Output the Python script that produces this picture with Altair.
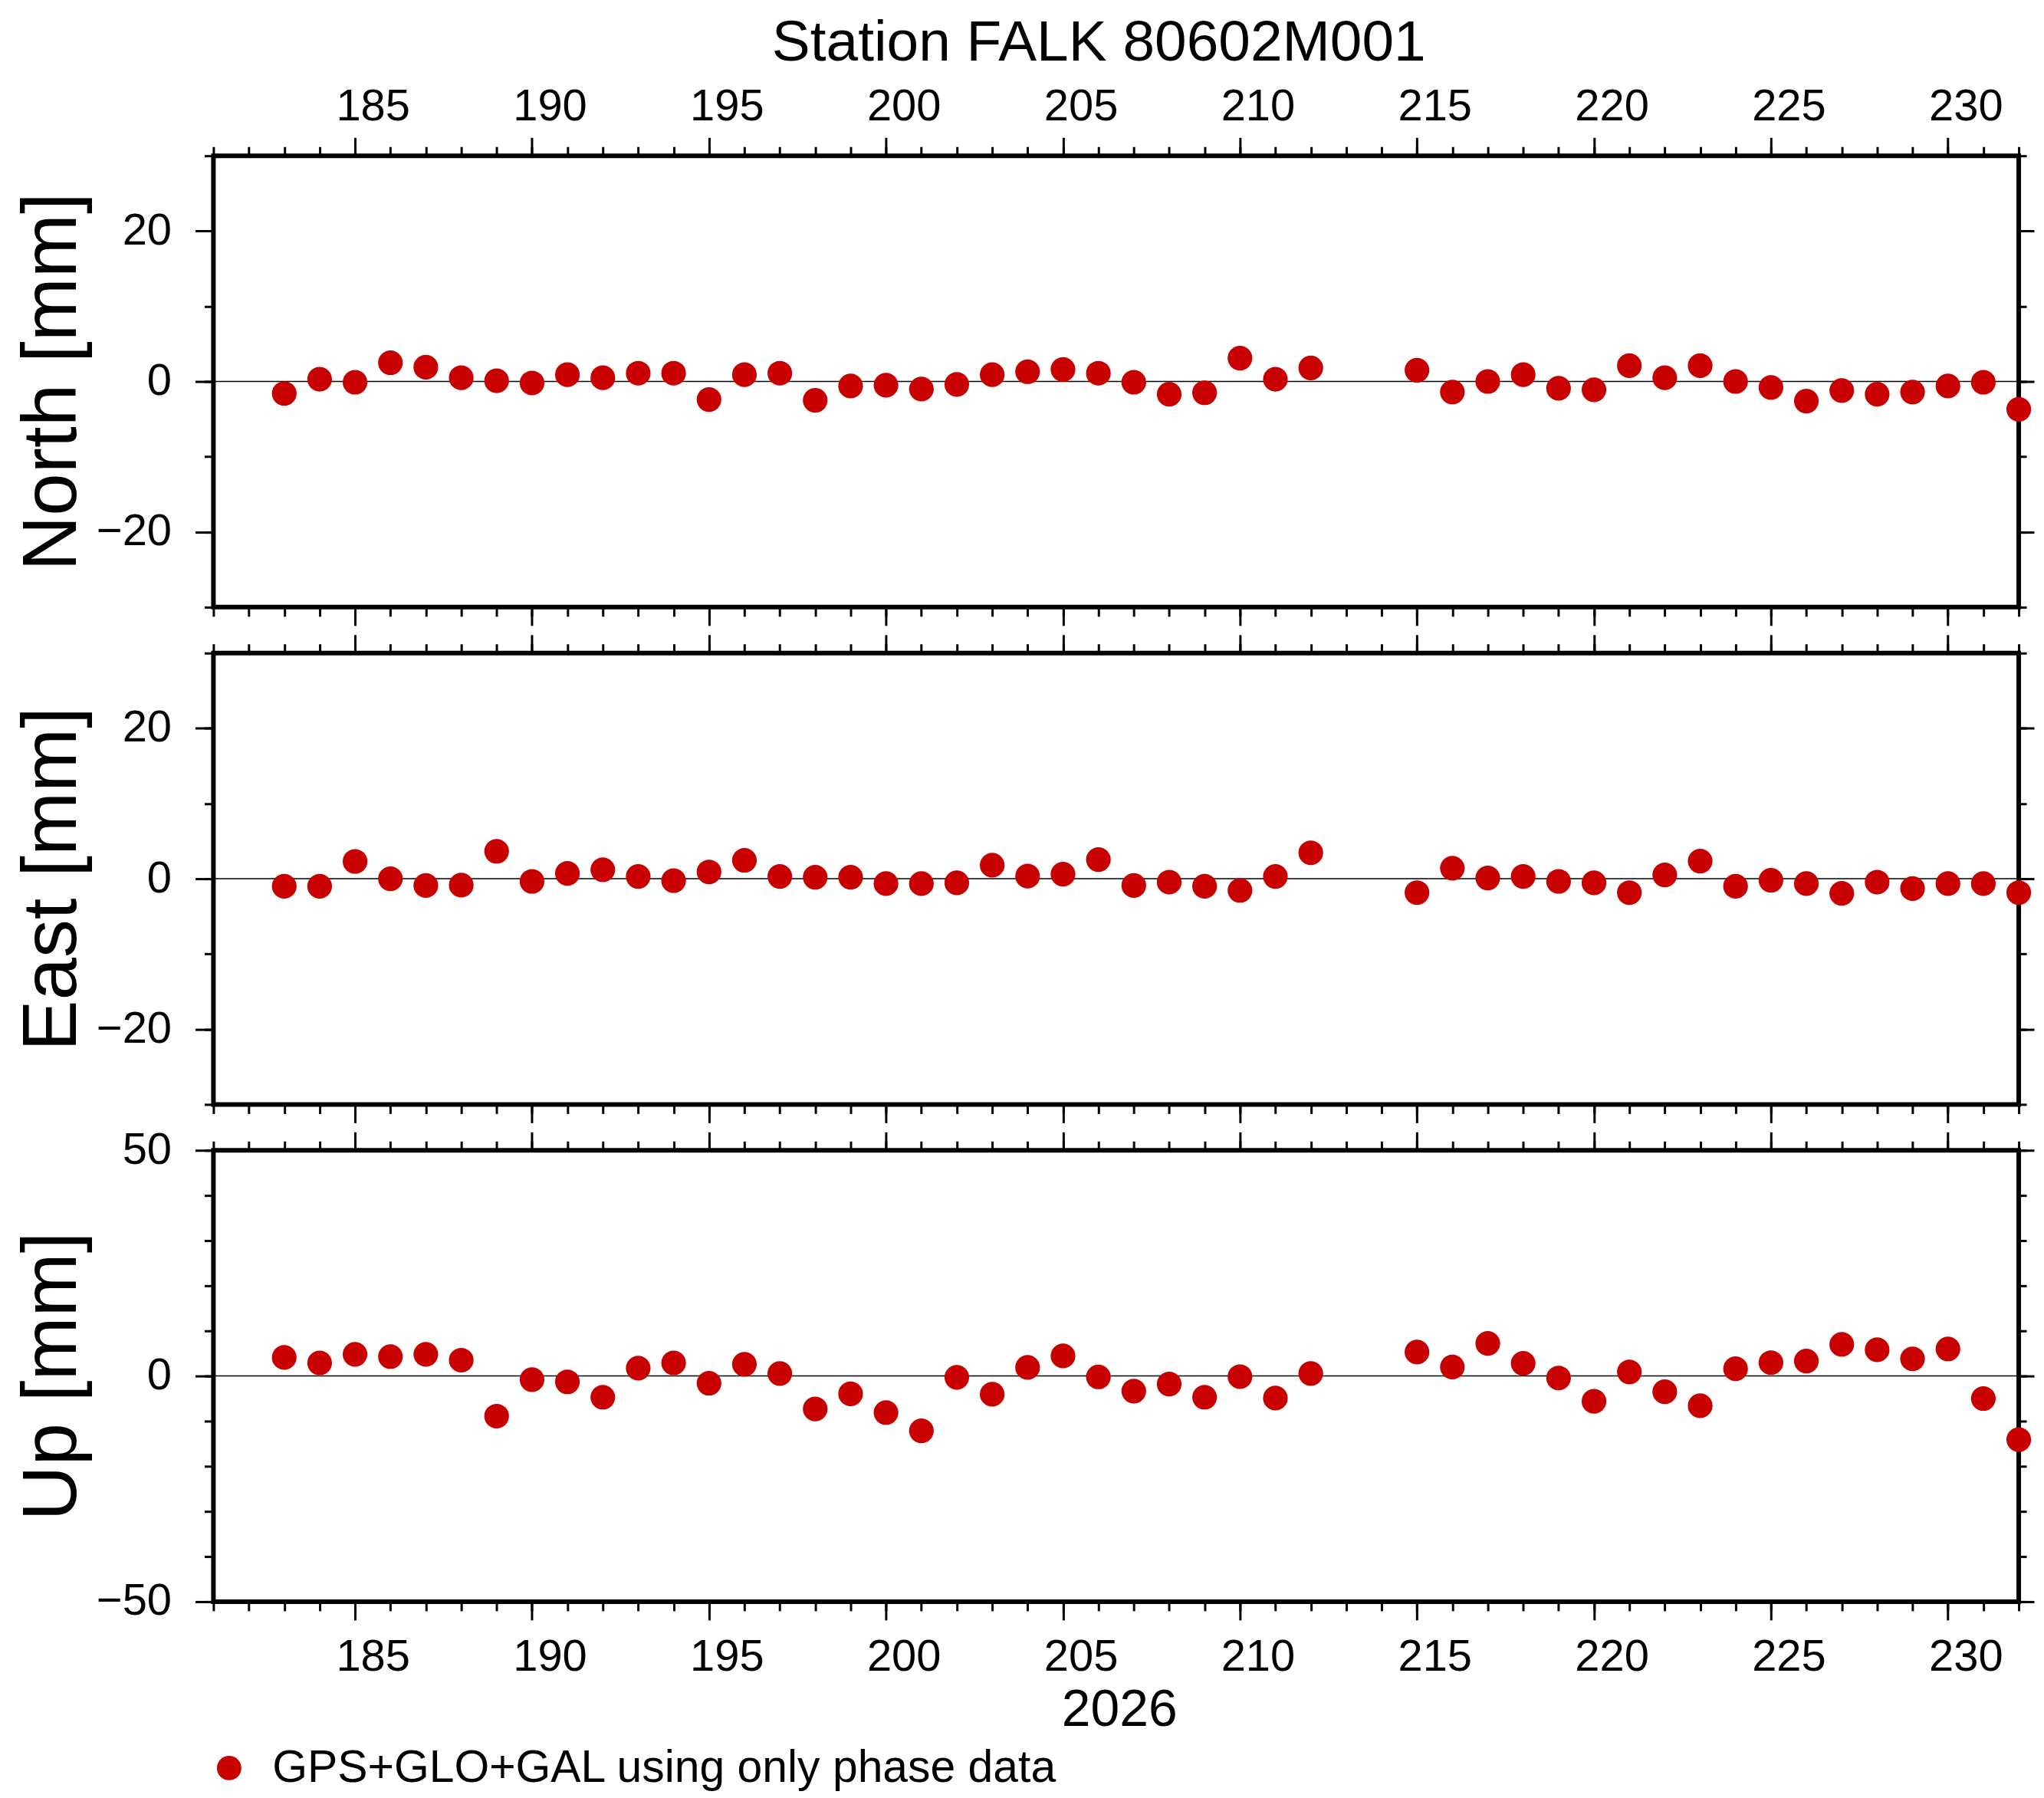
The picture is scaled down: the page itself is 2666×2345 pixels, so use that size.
import altair as alt
import pandas as pd

# ---------------- data ----------------
days = [183, 184, 185, 186, 187, 188, 189, 190, 191, 192, 193, 194, 195, 196, 197,
        198, 199, 200, 201, 202, 203, 204, 205, 206, 207, 208, 209, 210, 211, 212,
        215, 216, 217, 218, 219, 220, 221, 222, 223, 224, 225, 226, 227, 228, 229,
        230, 231, 232]
north = [-1.6, 0.3, -0.1, 2.5, 1.9, 0.5, 0.1, -0.2, 0.9, 0.5, 1.1, 1.1, -2.4, 0.9, 1.1,
         -2.5, -0.6, -0.5, -1.0, -0.4, 0.9, 1.3, 1.6, 1.1, -0.1, -1.7, -1.5, 3.1, 0.3, 1.8,
         1.5, -1.4, 0.0, 0.9, -0.9, -1.1, 2.1, 0.5, 2.1, 0.0, -0.8, -2.6, -1.2, -1.7, -1.4,
         -0.6, -0.1, -3.7]
east = [-1.0, -1.0, 2.3, 0.0, -0.9, -0.85, 3.65, -0.35, 0.7, 1.2, 0.3, -0.25, 0.9, 2.45, 0.3,
        0.2, 0.2, -0.65, -0.65, -0.55, 1.8, 0.35, 0.6, 2.55, -0.9, -0.45, -1.0, -1.55, 0.3, 3.45,
        -1.85, 1.4, 0.1, 0.3, -0.35, -0.55, -1.85, 0.5, 2.35, -1.0, -0.2, -0.65, -1.95, -0.45, -1.3,
        -0.65, -0.65, -1.85]
up = [4.1, 2.9, 4.8, 4.3, 4.8, 3.5, -8.9, -0.8, -1.3, -4.7, 1.75, 2.9, -1.6, 2.6, 0.55,
      -7.3, -3.95, -8.1, -12.15, -0.3, -4.05, 1.9, 4.45, -0.2, -3.35, -1.8, -4.7, -0.15, -4.9, 0.55,
      5.3, 2.0, 7.2, 2.8, -0.45, -5.6, 0.9, -3.5, -6.6, 1.6, 2.95, 3.3, 7.0, 5.8, 3.8,
      6.0, -5.0, -14.1]
solution_name = "GPS+GLO+GAL using only phase data"
station_title = "Station FALK 80602M001"
year_label = "2026"
panel_titles = ["North [mm]", "East [mm]", "Up [mm]"]
zero_line = [0]

x_domain = [181, 232]
x_minor_ticks = list(range(181, 233))
x_major_ticks = list(range(185, 231, 5))
ne_domain = [-30, 30]
ne_minor = list(range(-30, 31, 10))
ne_major = [-20, 0, 20]
up_domain = [-50, 50]
up_minor = list(range(-50, 51, 10))
up_major = [-50, 0, 50]

# ---------------- styling ----------------
RED = "#c80000"
FONT = "Liberation Sans"
W, H = 2360, 590
DAY_PX = W / (x_domain[1] - x_domain[0])
TICK_FS = 58

df = pd.DataFrame({"day": days, "North": north, "East": east, "Up": up,
                   "solution": [solution_name] * len(days)})
zero_df = pd.DataFrame({"zero": zero_line})


def axis(orient, values, size, **kw):
    base = dict(orient=orient, values=values, tickSize=size, tickWidth=3, tickColor="black",
                ticks=True, domain=False, grid=False, labelFont=FONT, labelColor="black",
                labelFontSize=TICK_FS)
    base.update(kw)
    if "labels" not in base:
        base["labels"] = False
    return alt.Axis(**base)


def xlab_kw(padding):
    return dict(labels=True, labelOffset=DAY_PX / 2, labelFlush=False, labelOverlap=False,
                labelBound=False, format="d", labelBaseline="alphabetic", labelPadding=padding)


def title_kw(text, size, x, y, angle=0):
    return dict(title=text, titleFont=FONT, titleFontSize=size, titleFontWeight="normal",
                titleColor="black", titleX=x, titleY=y, titleAngle=angle, titleAlign="center",
                titleBaseline="alphabetic")


def panel(col, ydom, yminor, ymajor, ytitle, top=False, bottom=False):
    xs = alt.Scale(domain=x_domain, nice=False, zero=False)
    ys = alt.Scale(domain=ydom, nice=False, zero=False)
    base = alt.Chart(df)

    rule = alt.Chart(zero_df).mark_rule(color="black", strokeWidth=1.5).encode(
        y=alt.Y("zero:Q", scale=ys, axis=None))

    enc = dict(
        x=alt.X("day:Q", scale=xs, title=None, axis=axis("bottom", x_minor_ticks, 12)),
        y=alt.Y(f"{col}:Q", scale=ys, title=None, axis=axis("left", yminor, 12)),
    )
    if bottom:
        enc["color"] = alt.Color(
            "solution:N", scale=alt.Scale(range=[RED]),
            legend=alt.Legend(orient="none", legendX=-9, legendY=778, title=None, padding=0,
                              symbolType="circle", symbolSize=1018, symbolStrokeWidth=0,
                              symbolOpacity=1, labelFont=FONT, labelFontSize=59,
                              labelColor="black", labelOffset=27, labelLimit=3000))
    pts = base.mark_circle(size=1040, opacity=1, color=RED).encode(**enc)

    # bottom major + left major (labels / titles)
    xb_kw = {}
    if bottom:
        xb_kw.update(xlab_kw(66))
        xb_kw.update(title_kw(year_label, 68, 1184, 162))
    g1 = base.mark_point(opacity=0).encode(
        x=alt.X("day:Q", scale=xs, axis=axis("bottom", x_major_ticks, 24, **xb_kw),
                **({} if bottom else {"title": None})),
        y=alt.Y(f"{col}:Q", scale=ys,
                axis=axis("left", ymajor, 24, labels=True, labelPadding=31,
                          **title_kw(ytitle, 100, -180, H / 2, 270))),
    )
    # top minor + right minor
    g2 = base.mark_point(opacity=0).encode(
        x=alt.X("day:Q", scale=xs, title=None, axis=axis("top", x_minor_ticks, 12)),
        y=alt.Y(f"{col}:Q", scale=ys, title=None, axis=axis("right", yminor, 10)),
    )
    # top major + right major
    xt_kw = {}
    if top:
        xt_kw.update(xlab_kw(23))
        xt_kw.update(title_kw(station_title, 75, 1157, -125))
    g3 = base.mark_point(opacity=0).encode(
        x=alt.X("day:Q", scale=xs, axis=axis("top", x_major_ticks, 24, **xt_kw),
                **({} if top else {"title": None})),
        y=alt.Y(f"{col}:Q", scale=ys, title=None, axis=axis("right", ymajor, 20)),
    )
    return (alt.layer(rule, pts, g1, g2, g3)
            .resolve_scale(x="shared", y="shared")
            .resolve_axis(x="independent", y="independent")
            .properties(width=W, height=H))


p_n = panel("North", ne_domain, ne_minor, ne_major, panel_titles[0], top=True)
p_e = panel("East", ne_domain, ne_minor, ne_major, panel_titles[1])
p_u = panel("Up", up_domain, up_minor, up_major, panel_titles[2], bottom=True)

chart = (alt.vconcat(p_n, p_e, p_u, spacing=60, bounds="flush")
         .resolve_legend(color="independent")
         .properties(padding={"left": 8, "top": 5, "right": 0, "bottom": 0},
                     background="white")
         .configure_view(stroke="black", strokeWidth=6))

chart.save("out.html", embed_options={"renderer": "svg", "actions": False})
